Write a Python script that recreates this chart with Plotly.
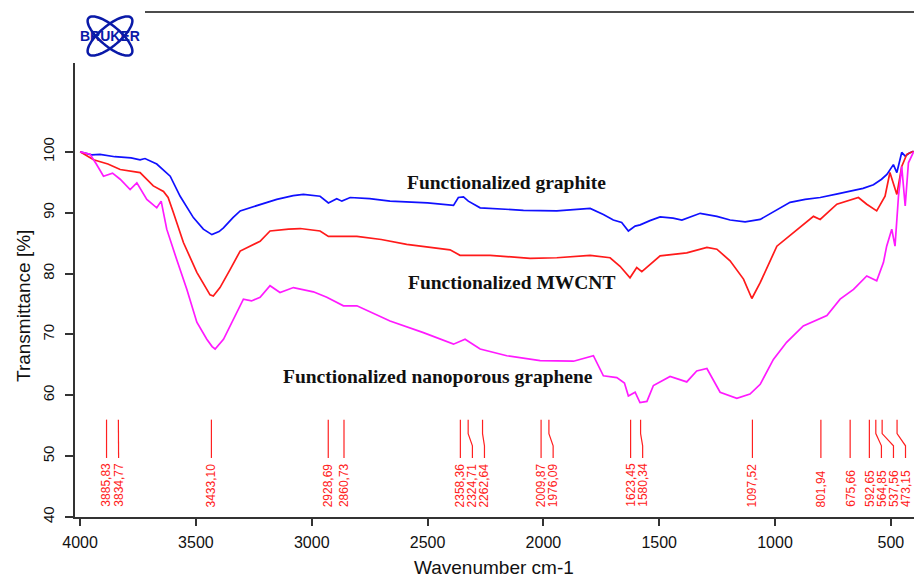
import math
import plotly.graph_objects as go

# ---------------- data ----------------
graphite_wn = [4000, 3950, 3914, 3850, 3780, 3741, 3720, 3669, 3611, 3568, 3511, 3468, 3431, 3400, 3381,
               3340, 3309, 3223, 3151, 3080, 3036, 2964, 2928, 2892, 2870, 2834, 2750, 2662, 2500, 2388,
               2367, 2345, 2324, 2273, 2150, 2086, 1942, 1850, 1798, 1741, 1698, 1662, 1633, 1604, 1582,
               1540, 1496, 1440, 1402, 1323, 1251, 1194, 1129, 1064, 1007, 935, 870, 805, 730, 661, 620,
               575, 540, 517, 489, 474, 453, 438, 420, 402]
graphite_t = [100, 99.5, 99.6, 99.2, 99.0, 98.7, 98.9, 98.0, 96.0, 92.7, 89.2, 87.3, 86.4, 86.9, 87.5,
              89.2, 90.3, 91.4, 92.2, 92.8, 93.0, 92.7, 91.6, 92.3, 91.9, 92.5, 92.3, 91.9, 91.6, 91.2,
              92.5, 92.6, 91.9, 90.8, 90.6, 90.4, 90.3, 90.6, 90.7, 89.7, 88.8, 88.4, 87.0, 87.8, 88.0,
              88.7, 89.3, 89.1, 88.8, 89.9, 89.4, 88.8, 88.5, 88.9, 90.1, 91.7, 92.2, 92.5, 93.1, 93.7, 94.0,
              94.6, 95.5, 96.3, 97.9, 96.6, 99.9, 99.3, 99.8, 100.1]

mwcnt_wn = [4000, 3942, 3880, 3827, 3741, 3710, 3684, 3640, 3620, 3597, 3554, 3496, 3439, 3425, 3396,
            3352, 3309, 3223, 3180, 3100, 3050, 2964, 2928, 2805, 2700, 2590, 2403, 2360, 2230, 2057,
            1942, 1798, 1712, 1669, 1626, 1597, 1575, 1496, 1381, 1294, 1251, 1194, 1136, 1100, 1064,
            992, 920, 834, 805, 733, 640, 604, 561, 525, 504, 474, 453, 431, 402]
mwcnt_t = [100, 98.7, 98.0, 97.1, 96.6, 95.4, 94.4, 93.5, 92.5, 90.0, 85.1, 80.2, 76.5, 76.3, 77.7,
           80.7, 83.7, 85.3, 87.0, 87.3, 87.4, 87.0, 86.1, 86.1, 85.6, 84.8, 83.9, 83.0, 83.0, 82.5,
           82.6, 83.0, 82.6, 81.2, 79.3, 81.0, 80.3, 82.9, 83.4, 84.3, 84.0, 82.1, 79.1, 75.9, 78.5,
           84.5, 86.7, 89.4, 88.9, 91.4, 92.5, 91.4, 90.3, 92.7, 96.6, 93.0, 97.6, 99.6, 100.1]

graphene_wn = [4000, 3957, 3930, 3899, 3860, 3827, 3784, 3755, 3712, 3669, 3650, 3626, 3583, 3539, 3496,
               3453, 3430, 3417, 3381, 3338, 3295, 3260, 3223, 3180, 3137, 3079, 2993, 2935, 2863, 2805,
               2662, 2518, 2388, 2338, 2273, 2158, 2014, 1870, 1784, 1741, 1683, 1650, 1633, 1604, 1583,
               1553, 1525, 1453, 1381, 1338, 1294, 1237, 1165, 1108, 1064, 1007, 950, 878, 776, 719, 661,
               604, 561, 532, 518, 496, 482, 467, 453, 438, 424, 402]
graphene_t = [100, 99.6, 98.0, 96.0, 96.5, 95.5, 93.8, 94.9, 92.2, 90.8, 91.9, 87.3, 82.3, 77.4, 72.0,
              69.2, 68.0, 67.6, 69.2, 72.5, 75.8, 75.5, 76.1, 78.0, 76.9, 77.7, 77.0, 76.1, 74.7, 74.7,
              72.2, 70.3, 68.4, 69.2, 67.6, 66.5, 65.7, 65.6, 66.5, 63.2, 62.9, 62.0, 59.9, 60.5, 58.8,
              59.0, 61.6, 63.1, 62.2, 64.0, 64.4, 60.5, 59.5, 60.2, 61.8, 65.9, 68.7, 71.4, 73.1, 75.8, 77.4,
              79.6, 78.8, 81.8, 84.5, 87.3, 84.5, 92.7, 97.6, 91.1, 98.2, 100]

peaks = [3885.83, 3834.77, 3433.10, 2928.69, 2860.73, 2358.36, 2324.71, 2262.64, 2009.87, 1976.09,
         1623.45, 1580.34, 1097.52, 801.94, 675.66, 592.65, 564.85, 537.56, 473.15]

x_ticks = [4000, 3500, 3000, 2500, 2000, 1500, 1000, 500]
y_ticks = [40, 50, 60, 70, 80, 90, 100]

series_names = ["Functionalized graphite", "Functionalized MWCNT", "Functionalized nanoporous graphene"]

# ---------------- layout constants ----------------
W, H = 914, 579
L, R, T, B = 75, 0, 63, 62
X_RANGE = [4022, 400]
Y_RANGE = [40, 114.6]
MIN_GAP = 52  # minimum label spacing in cm-1

fig = go.Figure()

for wn, t, col, name in [(graphite_wn, graphite_t, "#1010ff", series_names[0]),
                         (mwcnt_wn, mwcnt_t, "#ff1a1a", series_names[1]),
                         (graphene_wn, graphene_t, "#ff1aff", series_names[2])]:
    fig.add_trace(go.Scatter(x=wn, y=t, mode="lines", name=name,
                             line=dict(color=col, width=1.7), hoverinfo="skip"))

# peak markers with de-overlapped labels
label_x = []
prev = None
for p in peaks:
    lx = p if prev is None else min(p, prev - MIN_GAP)
    label_x.append(lx)
    prev = lx

for p, lx in zip(peaks, label_x):
    if abs(p - lx) < 1e-6:
        xs, ys = [p, p], [56, 49.7]
    else:
        xs, ys = [p, p, lx, lx], [56, 53.7, 51.7, 49.7]
    fig.add_trace(go.Scatter(x=xs, y=ys, mode="lines", line=dict(color="#ff2020", width=1.2),
                             hoverinfo="skip", showlegend=False))
    fig.add_annotation(x=lx, y=41.3, xref="x", yref="y", text=f"{p:.2f}".replace(".", ","),
                       textangle=-90, showarrow=False, xanchor="center", yanchor="bottom",
                       font=dict(family="Liberation Sans, Arial", size=12, color="#ff2020"))

# series labels
for txt, x, y in [(series_names[0], 2158, 94.9), (series_names[1], 2136, 78.5), (series_names[2], 2454, 63.1)]:
    fig.add_annotation(x=x, y=y, xref="x", yref="y", text=f"<b>{txt}</b>", showarrow=False,
                       xanchor="center", yanchor="middle",
                       font=dict(family="Liberation Serif, Times New Roman", size=19.5, color="#111"))

# axis titles
pw, ph = W - L - R, H - T - B
def paper(px, py):
    return (px - L) / pw, (H - B - py) / ph

ax_, ay_ = paper(494, 567)
fig.add_annotation(x=ax_, y=ay_, xref="paper", yref="paper", text="Wavenumber cm-1", showarrow=False,
                   xanchor="center", yanchor="middle",
                   font=dict(family="Liberation Sans, Arial", size=19, color="#111"))
tx, ty = paper(23, 306)
fig.add_annotation(x=tx, y=ty, xref="paper", yref="paper", text="Transmittance [%]", showarrow=False,
                   textangle=-90, xanchor="center", yanchor="middle",
                   font=dict(family="Liberation Sans, Arial", size=19, color="#111"))

# header line
x0, y0 = paper(145, 12)
x1, _ = paper(914, 12)
fig.add_shape(type="line", xref="paper", yref="paper", x0=x0, x1=x1, y0=y0, y1=y0,
              line=dict(color="#111", width=1.3))

# Bruker-style logo
def ellipse_path(cx, cy, a, b, ang):
    pts = []
    for i in range(61):
        th = 2 * math.pi * i / 60
        ex, ey = a * math.cos(th), b * math.sin(th)
        px = cx + ex * math.cos(ang) - ey * math.sin(ang)
        py = cy + ex * math.sin(ang) + ey * math.cos(ang)
        pts.append(paper(px, py))
    return "M " + " L ".join(f"{u:.5f},{v:.5f}" for u, v in pts) + " Z"

for ang in (math.radians(40), math.radians(-40)):
    fig.add_shape(type="path", xref="paper", yref="paper", path=ellipse_path(110, 36, 28, 10, ang),
                  line=dict(color="#0a1aa8", width=2.5))
lx_, ly_ = paper(110, 36)
fig.add_annotation(x=lx_, y=ly_, xref="paper", yref="paper", text="<b>BRUKER</b>", showarrow=False,
                   xanchor="center", yanchor="middle",
                   font=dict(family="Liberation Sans, Arial", size=14, color="#0a1aa8"))

fig.update_layout(
    width=W, height=H, margin=dict(l=L, r=R, t=T, b=B),
    paper_bgcolor="white", plot_bgcolor="white", showlegend=False,
    xaxis=dict(range=X_RANGE, tickvals=x_ticks, showgrid=False, zeroline=False,
               showline=True, linecolor="#333", linewidth=1.5, ticks="outside", ticklen=7,
               tickcolor="#333", tickwidth=1.5, ticklabelstandoff=3,
               tickfont=dict(family="Liberation Sans, Arial", size=16, color="#111")),
    yaxis=dict(range=Y_RANGE, tickvals=y_ticks, showgrid=False, zeroline=False,
               showline=True, linecolor="#333", linewidth=1.5, ticks="outside", ticklen=8,
               tickcolor="#333", tickwidth=1.5, tickangle=-90, ticklabelstandoff=5,
               tickfont=dict(family="Liberation Sans, Arial", size=15, color="#111")),
)

fig.write_html("out.html")
